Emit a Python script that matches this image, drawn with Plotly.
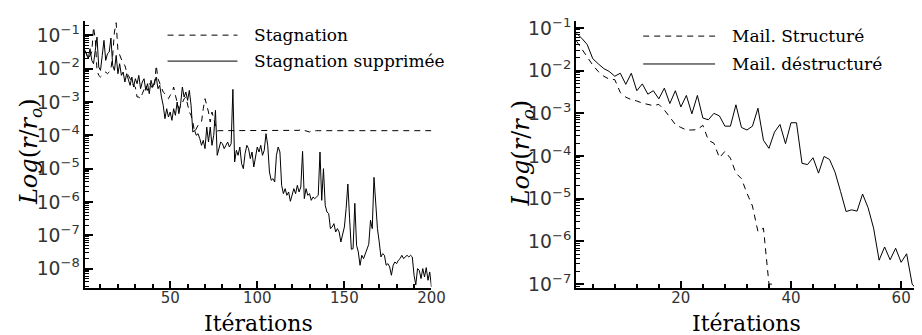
import plotly.graph_objects as go

# ---------------- data (log10 of r/r0) ----------------
iter_left = list(range(1, 201))

stagnation_log = [
    -1.45, -1.55, -1.7, -1.6, -1.5, -0.75, -1.1, -2.05, -2.2, -2.25,
    -2.2, -2.15, -2.1, -2.15, -2.1, -2.0, -1.6, -0.9, -0.62, -1.45,
    -1.6, -1.75, -1.85, -1.9, -2.1, -2.2, -2.3, -2.4, -2.5, -2.55,
    -2.85, -2.85, -2.9, -2.75, -2.6, -2.5, -2.65, -2.45, -2.5, -2.6,
    -2.5, -1.9, -2.3, -2.45, -2.6, -2.7, -2.75, -2.85, -2.9, -2.8,
    -2.75, -2.55, -2.8, -3.0, -3.2, -3.15, -3.0, -2.9, -2.85, -3.1,
    -3.3, -3.4, -3.6, -3.9, -3.8, -3.7, -3.65, -3.6, -3.2, -2.9,
    -3.1, -3.3, -3.6, -3.3, -3.5, -3.7, -3.87, -3.86, -3.86, -3.86,
    -3.86, -3.86, -3.86, -3.86, -3.86, -3.86, -3.86, -3.86, -3.86, -3.86,
    -3.86, -3.86, -3.86, -3.86, -3.86, -3.86, -3.86, -3.86, -3.86, -3.86,
    -3.86, -3.86, -3.86, -3.86, -3.86, -3.86, -3.86, -3.86, -3.86, -3.86,
    -3.86, -3.86, -3.86, -3.86, -3.86, -3.86, -3.86, -3.86, -3.86, -3.86,
    -3.86, -3.86, -3.86, -3.85, -3.82, -3.84, -3.86, -3.87, -3.9, -3.9,
    -3.87, -3.86, -3.86, -3.86, -3.86, -3.86, -3.86, -3.86, -3.86, -3.86,
    -3.86, -3.86, -3.86, -3.86, -3.86, -3.86, -3.86, -3.86, -3.86, -3.86,
    -3.86, -3.86, -3.86, -3.86, -3.86, -3.86, -3.86, -3.86, -3.86, -3.86,
    -3.86, -3.86, -3.86, -3.86, -3.86, -3.86, -3.86, -3.86, -3.86, -3.86,
    -3.86, -3.86, -3.86, -3.86, -3.86, -3.86, -3.86, -3.86, -3.86, -3.86,
    -3.86, -3.86, -3.86, -3.86, -3.86, -3.86, -3.86, -3.86, -3.86, -3.86,
    -3.86, -3.86, -3.86, -3.86, -3.86, -3.86, -3.86, -3.86, -3.86, -3.86,
]

supprimee_log = [
    -1.45, -1.6, -1.7, -1.4, -1.75, -1.85, -1.5, -1.05, -1.95, -2.05,
    -1.6, -1.15, -1.75, -1.55, -1.5, -1.08, -1.9, -2.05, -1.6, -2.15,
    -1.85, -2.2, -2.1, -2.4, -2.15, -2.3, -2.5, -2.25, -2.55, -2.3,
    -2.45, -2.2, -2.6, -2.4, -2.3, -2.65, -2.45, -2.75, -2.35, -2.55,
    -2.4, -2.25, -2.6, -2.5, -2.85, -3.1, -3.5, -3.2, -3.45, -3.3,
    -3.55, -3.2, -3.4, -3.0, -3.35, -3.05, -2.55, -2.85, -2.7, -2.95,
    -2.65, -3.1, -3.9, -3.85, -4.0, -3.95, -4.1, -4.3, -4.15, -4.4,
    -3.75, -4.2, -3.75, -4.3, -4.0, -3.25, -4.6, -4.35, -4.2, -4.25,
    -4.4, -4.3, -4.2, -4.35, -4.25, -2.62, -4.8, -4.45, -4.6, -4.35,
    -4.85, -5.0, -4.55, -4.3, -4.4, -4.7, -4.5, -4.95, -4.6, -4.35,
    -4.5, -4.3, -4.6, -4.45, -3.95, -4.3, -5.1, -5.35, -5.3, -5.4,
    -4.6, -4.35, -4.5, -5.5, -5.75, -5.6, -5.8, -5.7, -5.98, -5.8,
    -5.6, -5.75, -5.5, -5.7, -5.55, -4.48, -5.9, -5.6, -5.8, -5.75,
    -5.95, -5.85, -5.9, -5.85, -5.8, -4.5, -5.95, -5.0, -6.1, -6.3,
    -6.35, -6.8, -6.75, -6.65, -6.9, -6.8, -6.9, -7.2, -7.0, -6.75,
    -6.2, -5.46, -6.5, -7.42, -7.4, -6.04, -7.3, -7.5, -7.9, -7.6,
    -7.7, -7.55, -7.4, -7.27, -6.55, -6.8, -5.26, -6.0, -6.8, -7.2,
    -7.65, -7.55, -7.6, -7.9, -7.85, -7.95, -8.2, -7.9, -7.8, -7.85,
    -7.75, -7.7, -7.6, -7.7, -7.65, -7.6, -7.65, -7.6, -7.65, -8.2,
    -8.49, -8.0, -8.05, -8.3, -8.0, -8.25, -7.97, -8.35, -8.1, -8.55,
]

iter_struct = list(range(1, 38))
structure_log = [
    -1.3, -1.5, -1.69, -1.87, -2.02, -2.13, -2.2, -2.21, -2.51, -2.62,
    -2.68, -2.71, -2.76, -2.79, -2.82, -2.79, -2.92, -3.09, -3.26, -3.33,
    -3.39, -3.39, -3.38, -3.28, -3.63, -3.7, -4.04, -3.89, -4.05, -4.4,
    -4.53, -4.87, -5.17, -5.77, -5.69, -7.0, -7.0,
]

iter_destr = list(range(1, 64))
destructure_log = [
    -1.12, -1.24, -1.39, -1.72, -1.84, -1.95, -2.02, -2.13, -2.06, -2.32,
    -2.06, -2.47, -2.31, -2.55, -2.47, -2.66, -2.41, -2.77, -2.47, -2.85,
    -2.58, -3.01, -2.58, -3.11, -3.15, -3.0, -3.06, -3.3, -3.3, -2.8,
    -3.33, -3.39, -3.3, -2.88, -3.63, -3.82, -3.44, -3.26, -3.71, -3.22,
    -3.22, -4.17, -4.2, -4.04, -4.4, -4.01, -4.08, -4.38, -4.83, -5.3,
    -5.26, -5.29, -4.89, -5.21, -5.69, -6.44, -6.13, -6.43, -6.16, -6.49,
    -6.29, -7.0, -7.15,
]

names_left = ["Stagnation", "Stagnation supprimée"]
names_right = ["Mail. Structuré", "Mail. déstructuré"]
x_title = "Itérations"
y_title = "<i>Log</i>(<i>r</i>/<i>r<sub>o</sub></i>)"

# ---------------- figure ----------------
W, H = 922, 335
DASH = "6px,5px"


def pw(px):
    return px / W


def ph(py):
    return 1 - py / H


def to_lin(vals):
    return [10 ** v for v in vals]


fig = go.Figure()
fig.add_trace(go.Scatter(x=iter_left, y=to_lin(stagnation_log), mode="lines",
                         name=names_left[0], line=dict(color="black", width=1, dash=DASH),
                         xaxis="x", yaxis="y", showlegend=False))
fig.add_trace(go.Scatter(x=iter_left, y=to_lin(supprimee_log), mode="lines",
                         name=names_left[1], line=dict(color="black", width=1),
                         xaxis="x", yaxis="y", showlegend=False))
fig.add_trace(go.Scatter(x=iter_struct, y=to_lin(structure_log), mode="lines",
                         name=names_right[0], line=dict(color="black", width=1, dash=DASH),
                         xaxis="x2", yaxis="y2", showlegend=False))
fig.add_trace(go.Scatter(x=iter_destr, y=to_lin(destructure_log), mode="lines",
                         name=names_right[1], line=dict(color="black", width=1),
                         xaxis="x2", yaxis="y2", showlegend=False))

tickfont = dict(family="DejaVu Sans", size=15, color="#333333")
common = dict(showline=True, linecolor="black", linewidth=2, ticks="inside",
              tickcolor="black", showgrid=False, zeroline=False, mirror=False,
              tickfont=tickfont)

xdom_l = [pw(78), pw(430)]
xdom_r = [pw(577), 1.0]
ydom = [ph(285), ph(7)]

fig.update_layout(
    width=W, height=H,
    margin=dict(l=0, r=0, t=0, b=0),
    paper_bgcolor="white", plot_bgcolor="white",
    showlegend=False,
    xaxis=dict(domain=xdom_l, anchor="y", range=[1, 200], tick0=0, dtick=50,
               ticklen=7, tickwidth=2, ticklabelstandoff=-5,
               minor=dict(ticks="inside", ticklen=4, dtick=10, tick0=0, tickcolor="black", tickwidth=1.5),
               **common),
    yaxis=dict(domain=ydom, anchor="x", type="log", range=[-8.58, -0.56], dtick=1,
               exponentformat="power", ticklen=8, tickwidth=2,
               minor=dict(ticks="inside", ticklen=4, dtick="D1", tickcolor="black", tickwidth=1),
               **common),
    xaxis2=dict(domain=xdom_r, anchor="y2", range=[1, 62.7], tick0=0, dtick=20,
                ticklen=7, tickwidth=2, ticklabelstandoff=-5,
                minor=dict(ticks="inside", ticklen=4, dtick=4, tick0=0, tickcolor="black", tickwidth=1.5),
                **common),
    yaxis2=dict(domain=ydom, anchor="x2", type="log", range=[-7.09, -0.83], dtick=1,
                exponentformat="power", ticklen=8, tickwidth=2,
                minor=dict(ticks="inside", ticklen=4, dtick="D1", tickcolor="black", tickwidth=1),
                **common),
)

serif = "DejaVu Serif"
ann = []
# axis titles
for xc in (254, 750):
    ann.append(dict(text=x_title, x=pw(xc), y=ph(322), xref="paper", yref="paper",
                    showarrow=False, xanchor="center", yanchor="middle",
                    font=dict(family=serif, size=22, color="black")))
for xc, yc in ((23, 143), (522, 145)):
    ann.append(dict(text=y_title, x=pw(xc), y=ph(yc), xref="paper", yref="paper",
                    showarrow=False, xanchor="center", yanchor="middle", textangle=-90,
                    font=dict(family=serif, size=24, color="black")))

# legends (line samples + labels)
shapes = []
leg = [
    (162, 233, 22, 248, names_left[0], True),
    (162, 233, 49, 248, names_left[1], False),
    (645, 718, 23, 733, names_right[0], True),
    (645, 718, 52, 733, names_right[1], False),
]
for x0, x1, yy, xt, label, dashed in leg:
    shapes.append(dict(type="line", xref="paper", yref="paper",
                       x0=pw(x0), x1=pw(x1), y0=ph(yy), y1=ph(yy),
                       line=dict(color="black", width=1, dash=DASH if dashed else "solid")))
    ann.append(dict(text=label, x=pw(xt), y=ph(yy), xref="paper", yref="paper",
                    showarrow=False, xanchor="left", yanchor="middle",
                    font=dict(family=serif, size=17, color="black")))

fig.update_layout(annotations=ann, shapes=shapes)
fig.write_html("out.html")
